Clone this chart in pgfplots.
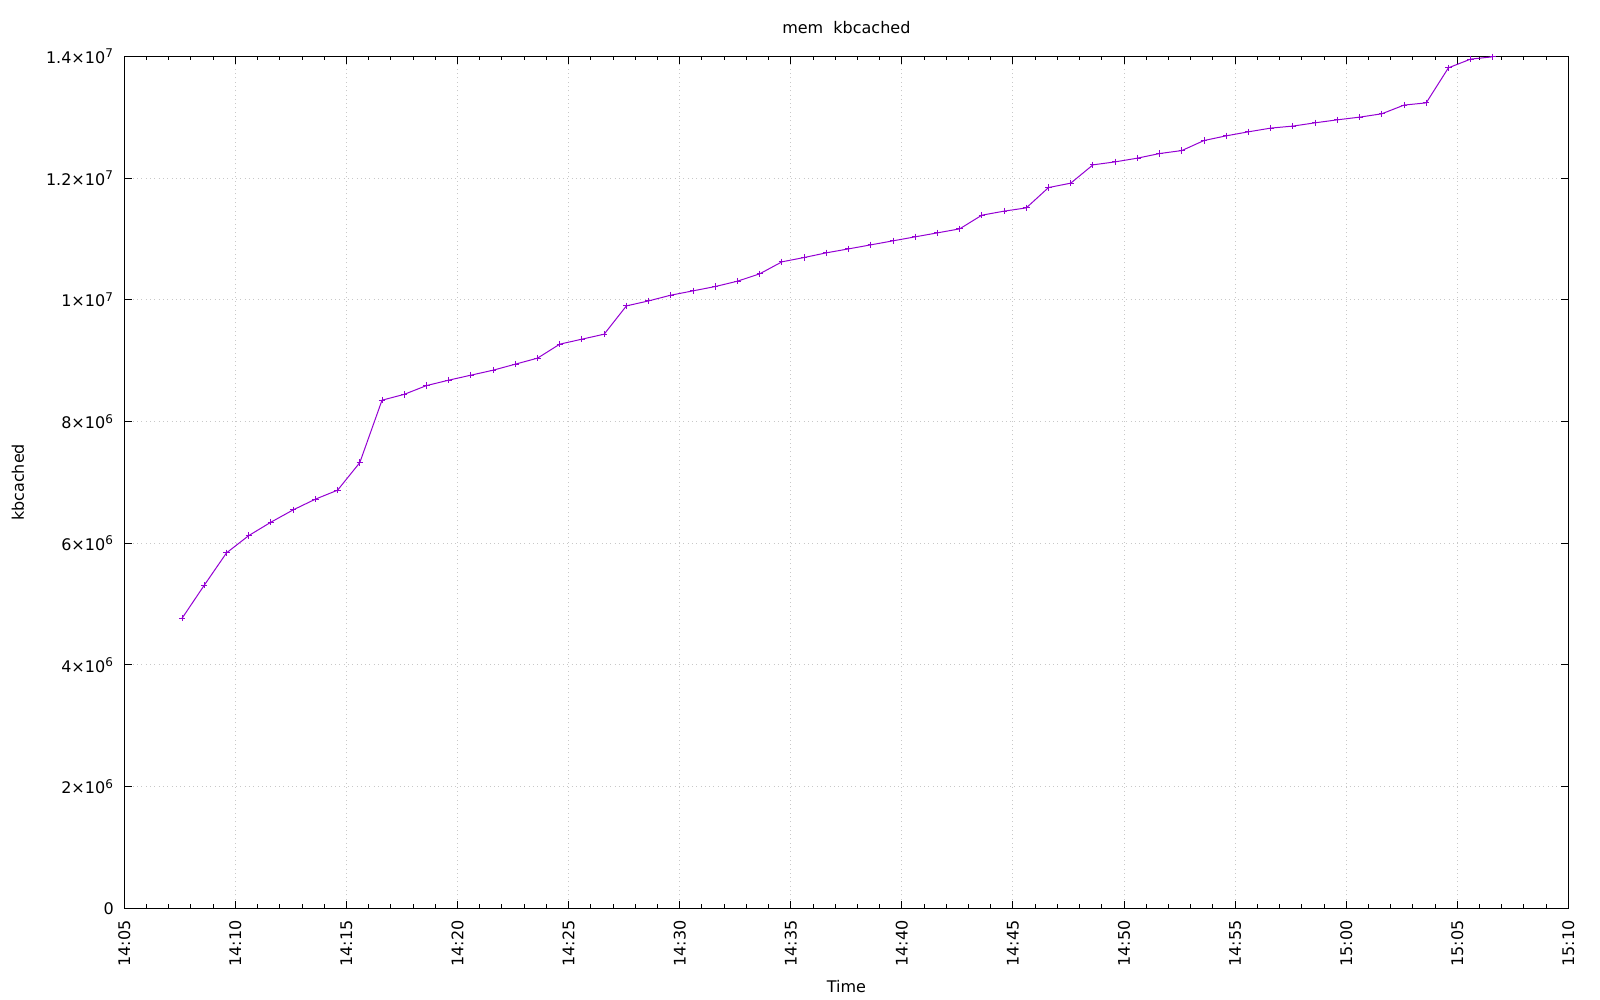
\documentclass[border=0pt]{standalone}
\usepackage{pgfplots}
\pgfplotsset{compat=1.18}
\usepackage{fontspec}
\setmainfont{DejaVu Sans}
\definecolor{gpviolet}{RGB}{148,0,211}
\definecolor{gridgray}{RGB}{200,200,200}
\pgfplotstableread{
t val
7.6 4767000
8.6 5310000
9.6 5841000
10.6 6125000
11.6 6346000
12.6 6548000
13.6 6724000
14.6 6872000
15.6 7325000
16.6 8351000
17.6 8447000
18.6 8591000
19.6 8680000
20.6 8762000
21.6 8844000
22.6 8943000
23.6 9042000
24.6 9272000
25.6 9354000
26.6 9436000
27.6 9901000
28.6 9983000
29.6 10077000
30.6 10148000
31.6 10219000
32.6 10307000
33.6 10428000
34.6 10625000
35.6 10696000
36.6 10773000
37.6 10838000
38.6 10904000
39.6 10970000
40.6 11036000
41.6 11101000
42.6 11167000
43.6 11392000
44.6 11458000
45.6 11512000
46.6 11846000
47.6 11918000
48.6 12219000
49.6 12268000
50.6 12329000
51.6 12405000
52.6 12454000
53.6 12619000
54.6 12696000
55.6 12762000
56.6 12823000
57.6 12856000
58.6 12910000
59.6 12959000
60.6 13003000
61.6 13058000
62.6 13201000
63.6 13238000
64.6 13814000
65.6 13957000
66.6 13995000
}\kbdata
\begin{document}
\begin{tikzpicture}
\path[use as bounding box] (-62.15pt,-45.85pt) rectangle (737.85pt,454.15pt);
\begin{axis}[
  name=ax,
  at={(0pt,0pt)}, anchor=south west,
  scale only axis,
  width=722.05pt, height=425.9pt,
  xmin=5, xmax=70, ymin=0, ymax=14000000,
  xtick={5,10,15,20,25,30,35,40,45,50,55,60,65,70},
  xticklabels={14:05,14:10,14:15,14:20,14:25,14:30,14:35,14:40,14:45,14:50,14:55,15:00,15:05,15:10},
  minor x tick num=4,
  ytick={0,2000000,4000000,6000000,8000000,10000000,12000000,14000000},
  yticklabels={0,2×10\textsuperscript{6},4×10\textsuperscript{6},6×10\textsuperscript{6},8×10\textsuperscript{6},1×10\textsuperscript{7},1.2×10\textsuperscript{7},1.4×10\textsuperscript{7}},
  scaled y ticks=false,
  tick align=inside,
  major tick length=3.85pt,
  minor tick length=2pt,
  every tick/.style={black, line width=0.5pt},
  axis line style={black, line width=0.5pt},
  xticklabel style={rotate=90, anchor=east, inner sep=0pt, font=\fontsize{8}{9.6}\selectfont},
  xticklabel shift=5.8pt,
  yticklabel style={anchor=east, inner sep=0pt, font=\fontsize{8}{9.6}\selectfont},
  yticklabel shift=5pt,
  xmajorgrids, ymajorgrids,
  major grid style={gridgray, line width=0.5pt, dash pattern=on 0.5pt off 1.65pt},
]
\addplot[gpviolet, line width=0.5pt, mark=+, mark size=1.6pt, mark options={solid, line width=0.5pt}] table[x=t, y=val] {\kbdata};
\end{axis}
\node[anchor=base, font=\fontsize{8}{9.6}\selectfont] at ([yshift=11.25pt]ax.north) {mem~~kbcached};
\node[anchor=base, font=\fontsize{8}{9.6}\selectfont] at ([yshift=-42.2pt]ax.south) {Time};
\node[rotate=90, anchor=center, font=\fontsize{8}{9.6}\selectfont] at ([xshift=-53.15pt]ax.west) {kbcached};
\end{tikzpicture}
\end{document}
